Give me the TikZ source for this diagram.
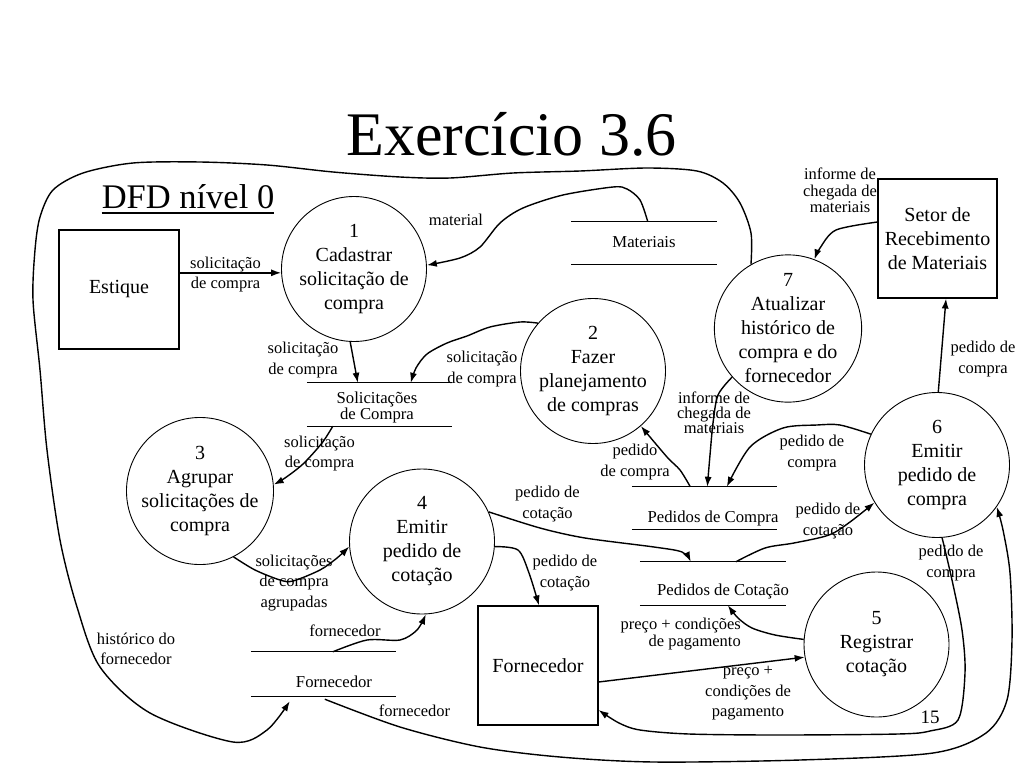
\documentclass[tikz,border=0pt]{standalone}
\usepackage{fontspec}
\setmainfont{Liberation Serif}
\usetikzlibrary{arrows.meta,calc}
\tikzset{
 proc/.style={circle, draw, line width=0.9pt, minimum size=145pt, inner sep=0pt, align=center, font=\fontsize{20}{24}\selectfont},
 ext/.style={rectangle, draw, line width=1.1pt, inner sep=0pt, align=center, font=\fontsize{20}{24}\selectfont},
 store/.style={rectangle, draw=none, inner sep=0pt},
 storeline/.style={line width=1.1pt},
 stxt/.style={font=\fontsize{16.7}{16}\selectfont, align=center, inner sep=0pt},
 lbl/.style={font=\fontsize{16.5}{20.5}\selectfont, align=center, inner sep=0pt},
 lbltight/.style={font=\fontsize{16.5}{15.5}\selectfont, align=center, inner sep=0pt},
 flow/.style={line width=1.4pt, -{Latex[length=10pt,width=7pt]}},
}
\begin{document}
\begin{tikzpicture}[x=1pt,y=-1pt]
\useasboundingbox (0,0) rectangle (1024,768);
% titles
\node[anchor=base, font=\fontsize{62}{62}\selectfont, inner sep=0pt] (title) at (511.5,155) {Exercício 3.6};
\node[anchor=base, font=\fontsize{34.5}{35}\selectfont, inner sep=0pt] (dfd) at (188,208) {DFD nível 0};
\draw[line width=1.5pt] ([yshift=-5pt]dfd.base west) -- ([yshift=-5pt]dfd.base east);
% external entities
\node[ext, minimum width=120pt, minimum height=119pt] (est) at (119,289.5) {Estique};
\node[ext, minimum width=119pt, minimum height=119pt] (setor) at (937.5,238.5) {Setor de\\Recebimento\\de Materiais};
\node[ext, minimum width=120pt, minimum height=119pt] (forn) at (538,665.5) {Fornecedor};
% processes
\node[proc] (p1) at (354,269) {1\\Cadastrar\\solicitação de\\compra};
\node[proc] (p2) at (593,371) {2\\Fazer\\planejamento\\de compras};
\node[proc] (p3) at (200,491) {3\\Agrupar\\solicitações de\\compra};
\node[proc] (p4) at (422,541.5) {4\\Emitir\\pedido de\\cotação};
\node[proc] (p5) at (876.5,644.5) {5\\Registrar\\cotação};
\node[proc] (p6) at (937,465) {6\\Emitir\\pedido de\\compra};
\node[proc] (p7) at (788,328.5) {7\\Atualizar\\histórico de\\compra e do\\fornecedor};
% data stores
\node[store, minimum width=145pt, minimum height=42pt] (dMat) at (644,243) {};
\node[store, minimum width=145pt, minimum height=43pt] (dSol) at (379.5,404.5) {};
\node[store, minimum width=145pt, minimum height=42pt] (dPC) at (704.5,508) {};
\node[store, minimum width=146pt, minimum height=43pt] (dCot) at (713,583.5) {};
\node[store, minimum width=145pt, minimum height=44pt] (dForn) at (323.5,674) {};
\foreach \s in {dMat,dSol,dPC,dCot,dForn}{
  \draw[storeline] (\s.north west) -- (\s.north east) (\s.south west) -- (\s.south east);
}
\node[stxt, anchor=base] (dMatT) at (644,247) {Materiais};
\node[stxt] (dSolT) at (377,407) {Solicitações\\de Compra};
\node[stxt, anchor=base] (dPCT) at (713,522) {Pedidos de Compra};
\node[stxt, anchor=base] (dCotT) at (723,595) {Pedidos de Cotação};
\node[stxt, anchor=base] (dFornT) at (334,687) {Fornecedor};
% flows
\draw[flow] (est.east |- p1.183) -- (p1.183);
\draw[flow] (p1.267) -- ([xshift=51pt]dSol.north west);
\draw[flow] plot[smooth] coordinates {([xshift=76.5pt]dMat.north west) (640,200) (627,189) (613,187) (563,195) (523,208) (500,223) (480,247) (460,258) (p1.3)};
\draw[flow] plot[smooth] coordinates {(p2.139) (520,322) (490,327) (467,336) (447,343) (427,354) (416,368) ([xshift=104pt]dSol.north west)};
\draw[flow] plot[smooth] coordinates {([xshift=26pt]dSol.south west) (322,443) (303,464) (285,478) (p3.5)};
\draw[flow] plot[smooth] coordinates {(p3.297) (255,570) (280,580) (293,581) (320,570) (337,558) (p4.184)};
\draw[flow] plot[smooth] coordinates {(p4.24) (540,528) (585,538) (654,547) (682,552) ([xshift=51pt]dCot.north west)};
\draw[flow] plot[smooth] coordinates {(p4.356) (518,550) (529,573) ([xshift=1pt]forn.north)};
\draw[flow] plot[smooth] coordinates {([xshift=82pt]dForn.north west) (367,640) (400,640) (417,630) (p4.273)};
\draw[flow] plot[smooth] coordinates {([xshift=74pt,yshift=-3pt]dForn.south west) (400,727) (480,747) (560,757) (654,762) (800,760) (933,753) (986,733) (1007,700) (1012,640) (1010,573) (1003,530) (p6.325)};
\draw[flow] ([yshift=-16.5pt]forn.east) -- (p5.190);
\draw[flow] plot[smooth] coordinates {(p5.176) (775,635) (752,628) (738,618) ([xshift=88pt]dCot.south west)};
\draw[flow] plot[smooth] coordinates {(p6.274) (952,580) (962,630) (965,673) (958,720) (930,731) (898,734) (780,735) (689,734) (640,730) (619,723) ([yshift=-44.5pt]forn.east)};
\draw[flow] plot[smooth] coordinates {([xshift=96pt]dCot.north west) (765,548) (794,543) (829,535) (850,522) (p6.211)};
\draw[flow] plot[smooth] coordinates {([xshift=58.5pt]dPC.north west) (680,470) (667,457) (p2.311)};
\draw[flow] plot[smooth] coordinates {(p7.221) (718,395) (713,423) (710,455) ([xshift=75.5pt]dPC.north west)};
\draw[flow] plot[smooth] coordinates {(p6.155) (840,425) (817,425) (783,428) (750,447) ([xshift=95pt]dPC.north west)};
\draw[flow] (p6.89) -- ([xshift=8.5pt]setor.south);
\draw[flow] plot[smooth] coordinates {([yshift=16.5pt]setor.west) (836,230) (820,248) (p7.69)};
\draw[flow] plot[smooth] coordinates {(p7.120) (751,233) (740,203) (723,183) (697,171) (647,168) (580,171) (513,173) (450,178) (400,177) (333,172) (267,165) (200,162) (133,163) (83,173) (53,190) (40,217) (35,250) (33,300) (40,370) (47,450) (60,540) (77,607) (100,667) (150,713) (233,742) (267,730) ([xshift=39pt,yshift=-5pt]dForn.south west)};
% flow labels
\node[lbl] (c1) at (225.5,274.5) {solicitação\\de compra};
\node[lbl] (c2) at (303,360) {solicitação\\de compra};
\node[lbl, anchor=base] (c3) at (456,225) {material};
\node[lbl] (c4) at (482,369) {solicitação\\de compra};
\node[lbl] (c5) at (319.5,453.5) {solicitação\\de compra};
\node[lbl] (c6) at (294,583) {solicitações\\de compra\\agrupadas};
\node[lbl] (c7) at (547.5,504) {pedido de\\cotação};
\node[lbl] (c8) at (565,573) {pedido de\\cotação};
\node[lbl, anchor=base] (c9) at (345,636) {fornecedor};
\node[lbl, anchor=base] (c10) at (414.5,716) {fornecedor};
\node[lbl] (c11) at (748,693.5) {preço +\\condições de\\pagamento};
\node[lbl, align=right, font=\fontsize{16.5}{17}\selectfont, anchor=east] (c12) at (741,634.5) {preço + condições\\de pagamento};
\node[lbl] (c13) at (951,563) {pedido de\\compra};
\node[lbl] (c14) at (828,521) {pedido de\\cotação};
\node[lbl] (c15) at (635,462) {pedido\\de compra};
\node[lbltight, font=\fontsize{16.5}{15}\selectfont] (c16) at (714,413) {informe de\\chegada de\\materiais};
\node[lbl] (c17) at (812,453) {pedido de\\compra};
\node[lbl] (c18) at (983,359) {pedido de\\compra};
\node[lbltight, font=\fontsize{16.5}{16.5}\selectfont] (c19) at (840,190.5) {informe de\\chegada de\\materiais};
\node[lbl] (c20) at (136,649) {histórico do\\fornecedor};
\node[anchor=base, font=\fontsize{19}{19}\selectfont, inner sep=0pt] (pg) at (930,723) {15};
\end{tikzpicture}
\end{document}
